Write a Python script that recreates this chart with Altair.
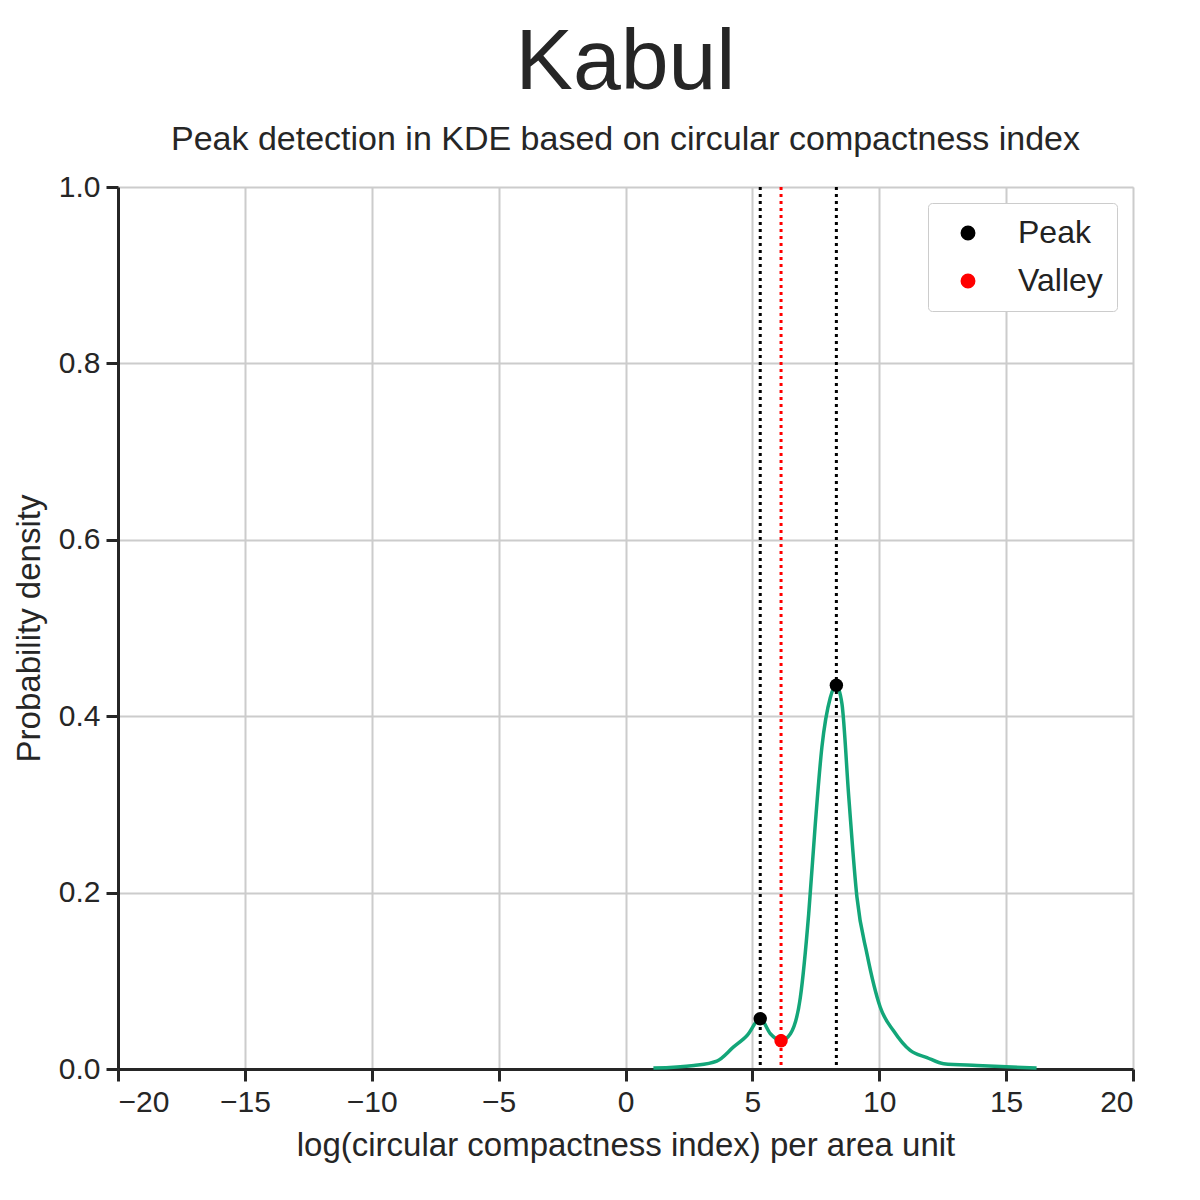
import altair as alt
import pandas as pd

# KDE curve
kde_x = [1.1, 2.7, 3.6, 4.26, 4.79, 5.31, 5.71, 6.13, 6.5, 6.89, 7.22, 7.48, 7.74, 8.07, 8.31,
         8.53, 8.8, 9.12, 9.52, 10.04, 10.57, 11.22, 11.88, 12.54, 13.85, 16.2]
kde_y = [0.001, 0.004, 0.009, 0.025, 0.038, 0.057, 0.040, 0.032, 0.040, 0.081, 0.176, 0.278, 0.365,
         0.421, 0.435, 0.414, 0.308, 0.195, 0.130, 0.070, 0.043, 0.021, 0.013, 0.006, 0.004, 0.001]

point_x = [5.31, 8.31, 6.13]
point_y = [0.057, 0.435, 0.032]
point_kind = ["Peak", "Peak", "Valley"]

FONT = "Liberation Sans"

curve_df = pd.DataFrame({"x": kde_x, "y": kde_y})
pts_df = pd.DataFrame({"x": point_x, "y": point_y, "kind": point_kind})

x_scale = alt.Scale(domain=[-20, 20], nice=False)
y_scale = alt.Scale(domain=[0, 1], nice=False)
color_scale = alt.Scale(domain=["Peak", "Valley"], range=["black", "red"])
legend = alt.Legend(orient="top-right", symbolSize=180, labelFontSize=32,
                    labelFont=FONT, labelColor="#222", fillColor="white",
                    strokeColor="#ccc", padding=14, cornerRadius=4,
                    rowPadding=16, symbolOffset=10, labelOffset=34, offset=16,
                    symbolType="circle")

curve = alt.Chart(curve_df).mark_line(color="#13a679", strokeWidth=3.5, interpolate="monotone").encode(
    x=alt.X("x:Q", scale=x_scale, title="log(circular compactness index) per area unit",
            axis=alt.Axis(values=list(range(-20, 21, 5)))),
    y=alt.Y("y:Q", scale=y_scale, title="Probability density",
            axis=alt.Axis(values=[0, 0.2, 0.4, 0.6, 0.8, 1.0], format=".1f")),
)

rules = alt.Chart(pts_df).mark_rule(strokeWidth=3, strokeDash=[3, 4]).encode(
    x="x:Q",
    color=alt.Color("kind:N", scale=color_scale, title=None, legend=legend),
)

points = alt.Chart(pts_df).mark_circle(size=180, opacity=1).encode(
    x="x:Q",
    y="y:Q",
    color=alt.Color("kind:N", scale=color_scale, title=None, legend=legend),
)

chart = (rules + curve + points).properties(
    width=1015, height=882,
    padding={"left": 5, "top": 12, "right": 30, "bottom": 5},
    title=alt.TitleParams("Kabul", subtitle="Peak detection in KDE based on circular compactness index",
                          fontSize=86, font=FONT, fontWeight="normal", color="#262626",
                          subtitleFontSize=34, subtitleFont=FONT, subtitleColor="#262626",
                          subtitlePadding=16, anchor="middle", offset=14),
).configure_view(stroke="#ddd").configure_axis(
    labelFont=FONT, titleFont=FONT, labelFontSize=30, titleFontSize=33,
    labelColor="#262626", titleColor="#262626", titleFontWeight="normal",
    gridColor="#cccccc", gridWidth=2, domainColor="#262626", domainWidth=3,
    tickColor="#262626", tickWidth=3, tickSize=12, labelPadding=6, titlePadding=12,
)

chart.save("out.html", embed_options={"renderer": "svg", "actions": False})
